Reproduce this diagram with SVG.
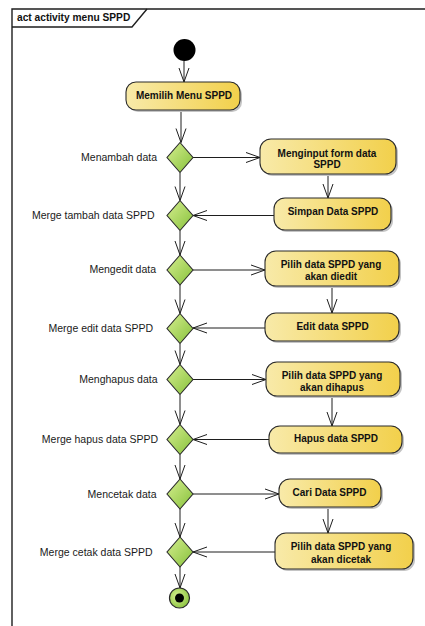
<svg xmlns="http://www.w3.org/2000/svg" width="425" height="626" viewBox="0 0 425 626">
  <defs>
    <linearGradient id="actFill" x1="0" y1="0" x2="1" y2="0">
      <stop offset="0" stop-color="#f8eaa9"/>
      <stop offset="1" stop-color="#f2d04b"/>
    </linearGradient>
    <linearGradient id="decFill" x1="0" y1="0" x2="1" y2="1">
      <stop offset="0" stop-color="#d6ee90"/>
      <stop offset="1" stop-color="#86c13a"/>
    </linearGradient>
    <radialGradient id="endFill" cx="0.4" cy="0.4" r="0.7">
      <stop offset="0" stop-color="#d6ee90"/>
      <stop offset="1" stop-color="#86c13a"/>
    </radialGradient>
    <marker id="open" markerUnits="userSpaceOnUse" markerWidth="16" markerHeight="12" refX="14" refY="5" orient="auto" overflow="visible">
      <path d="M0,0 L14,5 L0,10" fill="none" stroke="#1e1e1e" stroke-width="1"/>
    </marker>
  </defs>
  <style>
    .frame { fill: none; stroke: #1e1e1e; stroke-width: 1.4; }
    .title { font-family: "Liberation Sans", Arial, sans-serif; font-size: 10.2px; font-weight: bold; fill: #111; }
    .act { fill: url(#actFill); stroke: #2a2a2a; stroke-width: 1.1; }
    .shadow { fill: #c4c4c4; }
    .dec { fill: url(#decFill); stroke: #2a2a2a; stroke-width: 1.1; }
    .ntext { font-family: "Liberation Sans", Arial, sans-serif; font-size: 10px; font-weight: bold; fill: #111; text-anchor: middle; }
    .lbl { font-family: "Liberation Sans", Arial, sans-serif; font-size: 10.5px; fill: #1a1a1a; text-anchor: end; }
    .edge { fill: none; stroke: #1e1e1e; stroke-width: 1; marker-end: url(#open); }
  </style>

  <rect width="425" height="626" fill="#ffffff"/>

  <!-- activity frame with name tab -->
  <g id="frame">
    <path class="frame" d="M12,640 L12,9 L440,9"/>
    <path class="frame" d="M12,27 L132,27 L147,9"/>
    <text class="title" x="17" y="21">act activity menu SPPD</text>
  </g>

  <!-- connectors -->
  <g id="connectors">
    <line class="edge" x1="184" y1="61" x2="184" y2="82"/>
    <line class="edge" x1="181" y1="111" x2="181" y2="142.5"/>
    <line class="edge" x1="180" y1="172.5" x2="180" y2="200.5"/>
    <line class="edge" x1="180" y1="230.5" x2="180" y2="255"/>
    <line class="edge" x1="180" y1="285" x2="180" y2="313.5"/>
    <line class="edge" x1="180" y1="343.5" x2="180" y2="364.5"/>
    <line class="edge" x1="180" y1="394.5" x2="180" y2="424.5"/>
    <line class="edge" x1="180" y1="454.5" x2="180" y2="479"/>
    <line class="edge" x1="180" y1="509" x2="180" y2="537"/>
    <line class="edge" x1="180" y1="567" x2="180" y2="588"/>

    <line class="edge" x1="193" y1="157.5" x2="260" y2="157.5"/>
    <line class="edge" x1="328" y1="175" x2="328" y2="198"/>
    <line class="edge" x1="274" y1="215.5" x2="193" y2="215.5"/>

    <line class="edge" x1="193" y1="270" x2="265" y2="270"/>
    <line class="edge" x1="332" y1="287" x2="332" y2="313"/>
    <line class="edge" x1="265" y1="328" x2="193" y2="328"/>

    <line class="edge" x1="193" y1="379.5" x2="266" y2="379.5"/>
    <line class="edge" x1="332" y1="397" x2="332" y2="426"/>
    <line class="edge" x1="269" y1="439.5" x2="193" y2="439.5"/>

    <line class="edge" x1="193" y1="494" x2="279" y2="494"/>
    <line class="edge" x1="328" y1="508" x2="328" y2="533"/>
    <line class="edge" x1="275" y1="552" x2="193" y2="552"/>
  </g>

  <!-- start -->
  <g id="start">
    <circle cx="184.5" cy="50" r="11" fill="#000"/>
  </g>

  <!-- actions -->
  <g id="memilih-menu">
    <rect class="shadow" x="128" y="84" width="114" height="28" rx="10"/>
    <rect class="act" x="126" y="82" width="114" height="28" rx="10"/>
    <text class="ntext" x="184" y="99">Memilih Menu SPPD</text>
  </g>
  <g id="menginput-form">
    <rect class="shadow" x="262" y="141" width="136" height="35" rx="11"/>
    <rect class="act" x="260" y="139" width="136" height="35" rx="11"/>
    <text class="ntext" x="327" y="157">Menginput form data</text>
    <text class="ntext" x="327" y="168">SPPD</text>
  </g>
  <g id="simpan-data">
    <rect class="shadow" x="276" y="200" width="117" height="32" rx="11"/>
    <rect class="act" x="274" y="198" width="117" height="32" rx="11"/>
    <text class="ntext" x="333" y="215">Simpan Data  SPPD</text>
  </g>
  <g id="pilih-diedit">
    <rect class="shadow" x="267" y="253" width="134" height="35" rx="11"/>
    <rect class="act" x="265" y="251" width="134" height="35" rx="11"/>
    <text class="ntext" x="331" y="267.5">Pilih data  SPPD yang</text>
    <text class="ntext" x="331" y="279.5">akan diedit</text>
  </g>
  <g id="edit-data">
    <rect class="shadow" x="267" y="315" width="134" height="28" rx="11"/>
    <rect class="act" x="265" y="313" width="134" height="28" rx="11"/>
    <text class="ntext" x="332.5" y="330">Edit data  SPPD</text>
  </g>
  <g id="pilih-dihapus">
    <rect class="shadow" x="268" y="364" width="134" height="34" rx="11"/>
    <rect class="act" x="266" y="362" width="134" height="34" rx="11"/>
    <text class="ntext" x="332" y="378.5">Pilih data  SPPD yang</text>
    <text class="ntext" x="332" y="391">akan dihapus</text>
  </g>
  <g id="hapus-data">
    <rect class="shadow" x="271" y="428" width="133" height="27" rx="11"/>
    <rect class="act" x="269" y="426" width="133" height="27" rx="11"/>
    <text class="ntext" x="336" y="442">Hapus data  SPPD</text>
  </g>
  <g id="cari-data">
    <rect class="shadow" x="281" y="481" width="102" height="28" rx="11"/>
    <rect class="act" x="279" y="479" width="102" height="28" rx="11"/>
    <text class="ntext" x="329.5" y="496">Cari Data  SPPD</text>
  </g>
  <g id="pilih-dicetak">
    <rect class="shadow" x="277" y="535" width="138" height="36" rx="11"/>
    <rect class="act" x="275" y="533" width="138" height="36" rx="11"/>
    <text class="ntext" x="341" y="550">Pilih data  SPPD yang</text>
    <text class="ntext" x="341" y="562.5">akan dicetak</text>
  </g>

  <!-- decision / merge nodes -->
  <g id="menambah-data">
    <path class="dec" d="M180,142.5 L193,157.5 L180,172.5 L167,157.5 Z"/>
    <text class="lbl" x="157" y="161">Menambah data</text>
  </g>
  <g id="merge-tambah">
    <path class="dec" d="M180,200.5 L193,215.5 L180,230.5 L167,215.5 Z"/>
    <text class="lbl" x="154.5" y="219">Merge tambah data SPPD</text>
  </g>
  <g id="mengedit-data">
    <path class="dec" d="M180,255 L193,270 L180,285 L167,270 Z"/>
    <text class="lbl" x="156" y="273">Mengedit data</text>
  </g>
  <g id="merge-edit">
    <path class="dec" d="M180,313.5 L193,328.5 L180,343.5 L167,328.5 Z"/>
    <text class="lbl" x="153" y="332">Merge edit data SPPD</text>
  </g>
  <g id="menghapus-data">
    <path class="dec" d="M180,364.5 L193,379.5 L180,394.5 L167,379.5 Z"/>
    <text class="lbl" x="157.5" y="383">Menghapus data</text>
  </g>
  <g id="merge-hapus">
    <path class="dec" d="M180,424.5 L193,439.5 L180,454.5 L167,439.5 Z"/>
    <text class="lbl" x="158" y="443">Merge hapus data SPPD</text>
  </g>
  <g id="mencetak-data">
    <path class="dec" d="M180,479 L193,494 L180,509 L167,494 Z"/>
    <text class="lbl" x="156.5" y="498">Mencetak data</text>
  </g>
  <g id="merge-cetak">
    <path class="dec" d="M180,537 L193,552 L180,567 L167,552 Z"/>
    <text class="lbl" x="152.5" y="555.5">Merge cetak data SPPD</text>
  </g>

  <!-- final -->
  <g id="final">
    <circle cx="179.5" cy="598" r="10" fill="url(#endFill)" stroke="#2a2a2a" stroke-width="1.2"/>
    <circle cx="179.5" cy="598" r="4.5" fill="#000"/>
  </g>
</svg>
